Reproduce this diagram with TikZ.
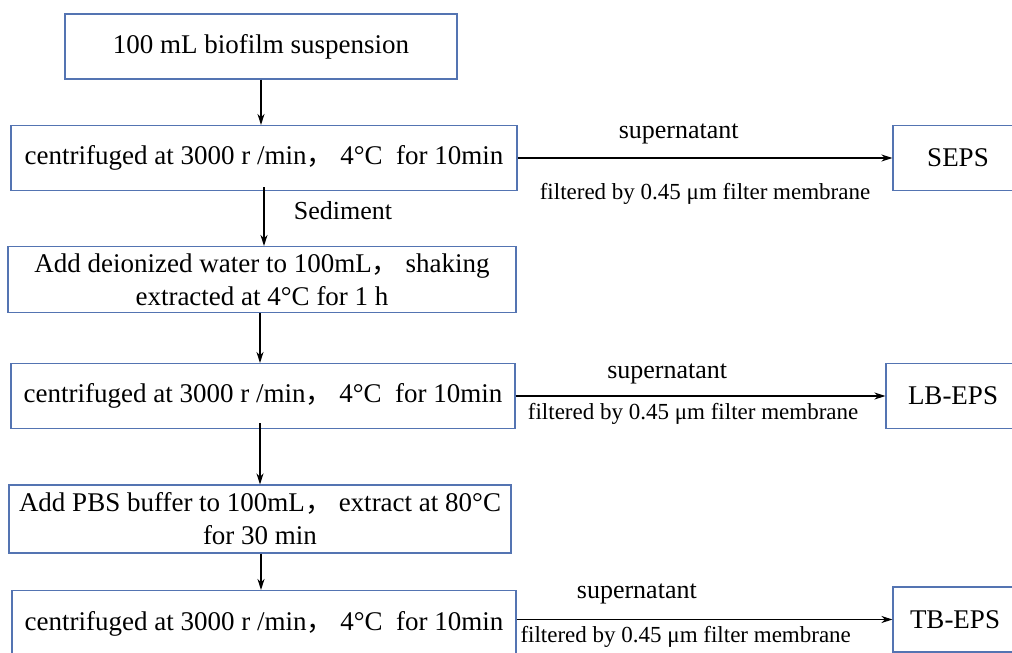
\documentclass[tikz,border=0pt]{standalone}
\usepackage{fontspec}
\setmainfont{Liberation Serif}
\newfontfamily\cjk{Noto Sans CJK SC}
\usetikzlibrary{arrows.meta}
\definecolor{boxblue}{RGB}{84,116,178}

\begin{document}
\begin{tikzpicture}[x=1pt, y=-1pt,
    stepbox/.style={draw=boxblue, line width=1.1pt, inner sep=0pt, align=center,
        font=\fontsize{27}{33}\selectfont},
    flow/.style={-{Stealth[length=11pt,width=7pt]}, line width=1.2pt},
    lab/.style={font=\fontsize{26}{30}\selectfont},
    sublab/.style={font=\fontsize{23}{27}\selectfont}]
    \useasboundingbox (0,0) rectangle (1012,653);
    \clip (0,0) rectangle (1012,653);
    \node[stepbox, minimum width=392, minimum height=65] (susp) at (261,46.5) {100 mL biofilm suspension};
    \node[stepbox, minimum width=506, minimum height=65] (cent1) at (264,158) {centrifuged at 3000 r /min{\cjk ，} 4°C\ \ for 10min};
    \node[stepbox, minimum width=130, minimum height=65] (seps) at (958,158) {SEPS};
    \node[stepbox, minimum width=508, minimum height=66] (water) at (262,279.5) {Add deionized water to 100mL{\cjk ，} shaking\\extracted at 4°C for 1 h};
    \node[stepbox, minimum width=504, minimum height=65] (cent2) at (263,396) {centrifuged at 3000 r /min{\cjk ，} 4°C\ \ for 10min};
    \node[stepbox, minimum width=134, minimum height=65] (lbeps) at (953,396) {LB-EPS};
    \node[stepbox, minimum width=502, minimum height=68] (pbs) at (260,519) {Add PBS buffer to 100mL{\cjk ，} extract at 80°C\\for 30 min};
    \node[stepbox, minimum width=504, minimum height=66] (cent3) at (264,623.5) {centrifuged at 3000 r /min{\cjk ，} 4°C\ \ for 10min};
    \node[stepbox, minimum width=124, minimum height=65] (tbeps) at (955,619.5) {TB-EPS};

    \draw[flow] (susp.south) -- (susp.south |- cent1.north);
    \draw[flow] ([yshift=4pt]cent1.south) -- (cent1.south |- water.north)
        node[pos=.4, right=26pt] (sed) {\fontsize{26}{30}\selectfont Sediment};
    \draw[flow] ([xshift=-2pt]water.south) -- ([xshift=-2pt]water.south |- cent2.north);
    \draw[flow] ([xshift=-3pt,yshift=6pt]cent2.south) -- ([xshift=-3pt]cent2.south |- pbs.north);
    \draw[flow] ([xshift=1pt]pbs.south) -- ([xshift=1pt]pbs.south |- cent3.north);

    \draw[flow] (cent1.east) -- (seps.west)
        node[lab, pos=.43, yshift=24pt] (sup1) {supernatant}
        node[sublab, pos=.5, yshift=-36pt] (fil1) {filtered by 0.45 μm filter membrane};
    \draw[flow] (cent2.east) -- (lbeps.west)
        node[lab, pos=.41, yshift=22pt] (sup2) {supernatant}
        node[sublab, pos=.48, yshift=-18pt] (fil2) {filtered by 0.45 μm filter membrane};
    \draw[flow] (cent3.east |- tbeps.west) -- (tbeps.west)
        node[lab, pos=.32, yshift=26pt] (sup3) {supernatant}
        node[sublab, pos=.45, yshift=-17pt] (fil3) {filtered by 0.45 μm filter membrane};
\end{tikzpicture}
\end{document}
